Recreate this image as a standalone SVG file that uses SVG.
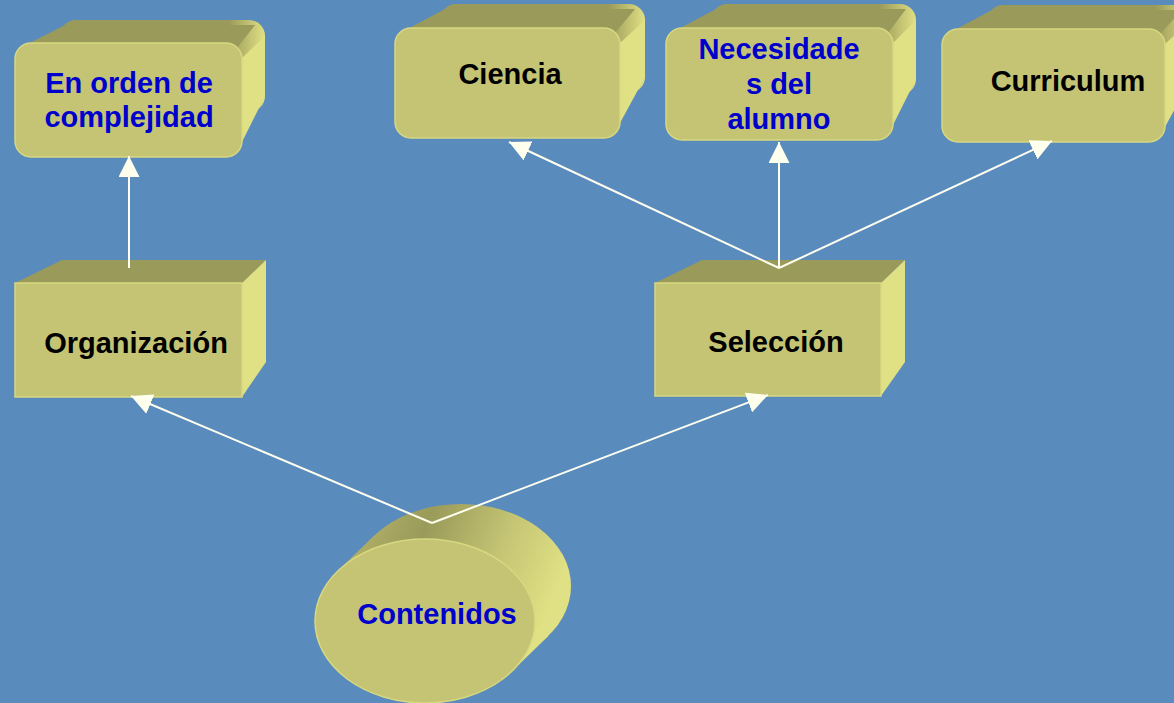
<svg xmlns="http://www.w3.org/2000/svg" width="1174" height="703" viewBox="0 0 1174 703">
<defs>
<style>
.front{fill:#C4C474;stroke:#D8D880;stroke-width:1.5}
.top{fill:#9A9A5A}
.side{fill:#E0E084}
.lbl{font-family:"Liberation Sans",Arial,Helvetica,sans-serif;font-weight:bold;font-size:29px;text-anchor:middle}
.blue{fill:#0000CC}
.black{fill:#000000}
.conn{stroke:#FFFFF0;stroke-width:2;fill:none;marker-end:url(#ah)}
</style>
<marker id="ah" markerUnits="userSpaceOnUse" markerWidth="21" markerHeight="21" viewBox="0 0 21 21" refX="21" refY="10.5" orient="auto">
<path d="M0,0 L21,10.5 L0,21 Z" fill="#FFFFEE"/>
</marker>
<linearGradient id="backg" x1="0" y1="0" x2="1" y2="0">
<stop offset="0" stop-color="#9A9A5A"/>
<stop offset="0.82" stop-color="#9A9A5A"/>
<stop offset="1" stop-color="#E0E084"/>
</linearGradient>
<linearGradient id="cylg" x1="0" y1="0" x2="1" y2="0.3">
<stop offset="0" stop-color="#B8B86C"/>
<stop offset="0.35" stop-color="#9A9A5A"/>
<stop offset="0.7" stop-color="#C4C474"/>
<stop offset="1" stop-color="#E0E084"/>
</linearGradient>
</defs>
<rect width="1174" height="703" fill="#5A8BBD"/>

<g id="n-orden">
<rect x="60" y="20" width="205" height="92" rx="16" fill="url(#backg)"/>
<polygon class="top" points="20,48 65,25 255,25 237,48"/>
<path class="side" d="M242,58 L265,36 L265,96 L242,142 Z"/>
<rect class="front" x="15" y="43" width="227" height="114" rx="16"/>
<text class="lbl blue" x="129" y="93">En orden de</text>
<text class="lbl blue" x="129" y="127">complejidad</text>
</g>

<g id="n-ciencia">
<rect x="440" y="4" width="205" height="89" rx="16" fill="url(#backg)"/>
<polygon class="top" points="400,33 445,9 635,9 615,33"/>
<path class="side" d="M620,43 L645,20 L645,77 L620,123 Z"/>
<rect class="front" x="395" y="28" width="225" height="110" rx="16"/>
<text class="lbl black" x="510" y="84">Ciencia</text>
</g>

<g id="n-necesidades">
<rect x="711" y="4" width="205" height="91" rx="16" fill="url(#backg)"/>
<polygon class="top" points="671,33 716,9 906,9 888,33"/>
<path class="side" d="M893,43 L916,20 L916,79 L893,125 Z"/>
<rect class="front" x="666" y="28" width="227" height="112" rx="16"/>
<text class="lbl blue" x="779" y="59">Necesidade</text>
<text class="lbl blue" x="779" y="94">s del</text>
<text class="lbl blue" x="779" y="129">alumno</text>
</g>

<g id="n-curriculum">
<rect x="987" y="5" width="205" height="92" rx="16" fill="url(#backg)"/>
<polygon class="top" points="947,34 992,10 1182,10 1160,34"/>
<path class="side" d="M1165,44 L1190,21 L1190,81 L1165,127 Z"/>
<rect class="front" x="942" y="29" width="223" height="113" rx="16"/>
<text class="lbl black" x="1068" y="91">Curriculum</text>
</g>

<g id="n-organizacion">
<polygon class="top" points="15,283 62,260 266,260 242,283"/>
<polygon class="side" points="242,283 266,260 266,362 242,397"/>
<rect class="front" x="15" y="283" width="227" height="114"/>
<text class="lbl black" x="136" y="353">Organización</text>
</g>

<g id="n-seleccion">
<polygon class="top" points="655,283 702,260 905,260 881,283"/>
<polygon class="side" points="881,283 905,260 905,362 881,396"/>
<rect class="front" x="655" y="283" width="226" height="113"/>
<text class="lbl black" x="776" y="352">Selección</text>
</g>

<g id="n-contenidos">
<ellipse cx="461" cy="586" rx="110" ry="82" fill="url(#cylg)"/>
<polygon points="337.7,571.1 373.7,536.1 548.3,635.9 512.3,670.9" fill="url(#cylg)"/>
<ellipse cx="425" cy="621" rx="110" ry="82" class="front" stroke="#E0E084" stroke-width="2"/>
<text class="lbl blue" x="437" y="624">Contenidos</text>
</g>

<g id="connectors">
<line class="conn" x1="129" y1="268" x2="129" y2="156"/>
<line class="conn" x1="779" y1="268" x2="509" y2="142"/>
<line class="conn" x1="779" y1="268" x2="779" y2="142"/>
<line class="conn" x1="779" y1="268" x2="1052" y2="141"/>
<line class="conn" x1="432" y1="523" x2="131" y2="396"/>
<line class="conn" x1="432" y1="523" x2="768" y2="395"/>
</g>
</svg>
